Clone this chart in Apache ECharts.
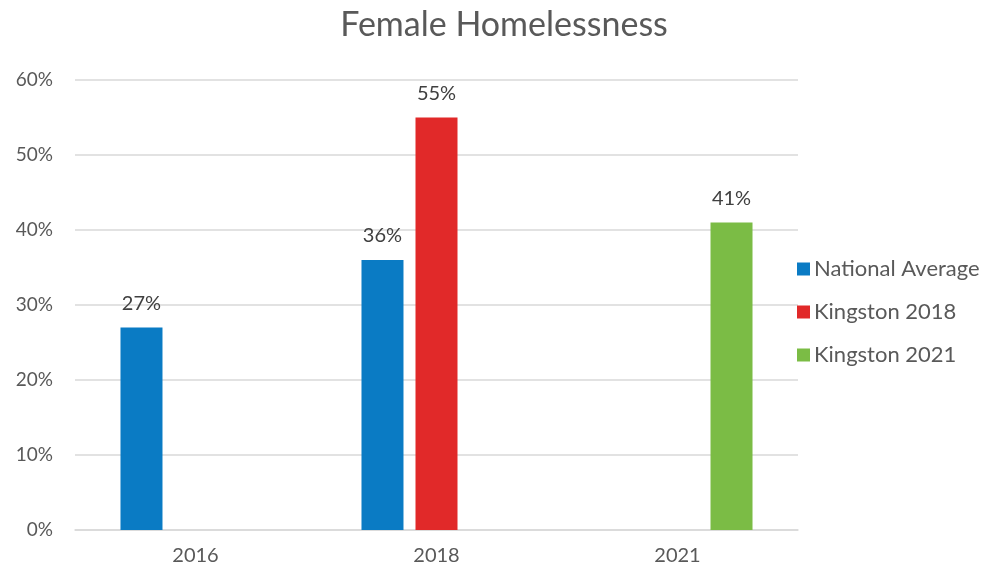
<!DOCTYPE html>
<html>
<head>
<meta charset="utf-8">
<script src="https://cdn.jsdelivr.net/npm/echarts@6/dist/echarts.min.js"></script>
<style>html,body{margin:0;padding:0;background:#fff}#c{width:985px;height:571px}</style>
</head>
<body>
<div id="c"></div>
<script>
const categories = ['2016', '2018', '2021'];
const nationalAverage = [27, 36, null];
const kingston2018 = [null, 55, null];
const kingston2021 = [null, null, 41];
const seriesNames = ['National Average', 'Kingston 2018', 'Kingston 2021'];
const colors = ['#0A7BC4', '#E12929', '#7BBC45'];

const font = 'Lato, "Open Sans", sans-serif';
const chart = echarts.init(document.getElementById('c'));
const label = {
  show: true, position: 'top', distance: 14,
  formatter: p => p.value + '%',
  color: '#404040', fontSize: 20, fontFamily: font
};
const data = [nationalAverage, kingston2018, kingston2021];
chart.setOption({
  animation: false,
  title: {
    text: 'Female Homelessness', left: 499, top: 3, textAlign: 'center',
    textStyle: { fontSize: 34, fontWeight: 'normal', color: '#595959', fontFamily: font }
  },
  legend: {
    orient: 'vertical', left: 792, top: 253, itemGap: 21,
    itemWidth: 13, itemHeight: 13, icon: 'rect',
    textStyle: { fontSize: 22, color: '#595959', fontFamily: font, padding: [0, 0, 0, -1] },
    data: seriesNames
  },
  grid: { left: 75, right: 187, top: 80, bottom: 41 },
  xAxis: {
    type: 'category', data: categories,
    axisLine: { lineStyle: { color: '#D9D9D9', width: 1.5 } },
    axisTick: { show: false },
    axisLabel: { color: '#595959', fontSize: 20, fontFamily: font, margin: 16 }
  },
  yAxis: {
    type: 'value', min: 0, max: 60, interval: 10,
    axisLabel: { formatter: '{value}%', color: '#595959', fontSize: 19, fontFamily: font, margin: 22 },
    splitLine: { lineStyle: { color: '#D9D9D9', width: 1.5 } },
    axisLine: { show: false }, axisTick: { show: false }
  },
  series: seriesNames.map((n, i) => ({
    name: n, type: 'bar', data: data[i], barWidth: 42, barGap: '28.6%',
    itemStyle: { color: colors[i] }, label: label
  }))
});
</script>
</body>
</html>
